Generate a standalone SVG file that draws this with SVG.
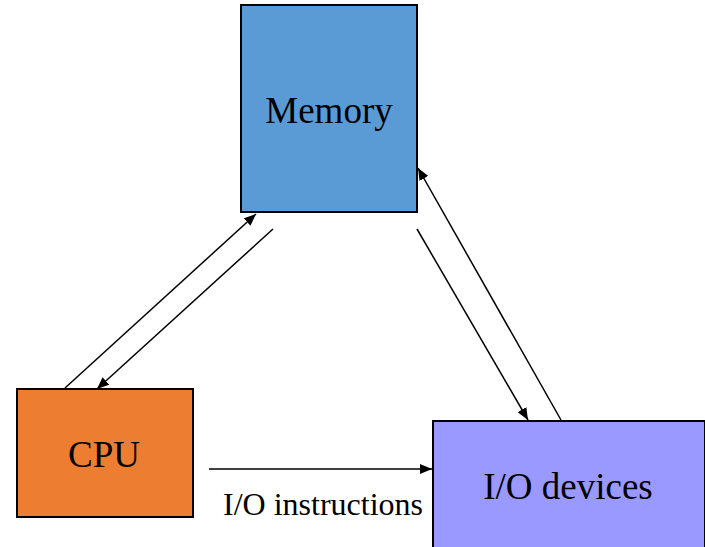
<svg xmlns="http://www.w3.org/2000/svg" width="705" height="547" viewBox="0 0 705 547">
  <style>
    .box { stroke: #000; stroke-width: 2; }
    .label { font-family: "Liberation Serif", "Times New Roman", serif; fill: #000; text-anchor: middle; }
    .big { font-size: 37px; }
    .small { font-size: 32px; }
    .edge { stroke: #000; stroke-width: 1.5; fill: none; marker-end: url(#arrow); }
  </style>
  <defs>
    <marker id="arrow" markerUnits="userSpaceOnUse" markerWidth="13" markerHeight="10" refX="12" refY="5" orient="auto">
      <path d="M0,0 L12,5 L0,10 Z" fill="#000"/>
    </marker>
  </defs>
  <rect width="705" height="547" fill="#fff"/>

  <g id="memory">
    <rect class="box" x="241" y="5" width="176" height="207" fill="#5B9BD5"/>
    <text class="label big" x="329" y="123">Memory</text>
  </g>

  <g id="cpu">
    <rect class="box" x="17" y="389" width="176" height="128" fill="#ED7D31"/>
    <text class="label big" x="104" y="467">CPU</text>
  </g>

  <g id="io-devices">
    <rect class="box" x="433" y="421" width="272" height="140" fill="#9999FF"/>
    <text class="label big" x="568" y="499">I/O devices</text>
  </g>

  <g id="connectors">
    <line class="edge" x1="65" y1="388" x2="256" y2="214"/>
    <line class="edge" x1="273" y1="229" x2="97" y2="389"/>
    <line class="edge" x1="561" y1="420" x2="418" y2="168"/>
    <line class="edge" x1="417" y1="229" x2="528" y2="420"/>
    <line class="edge" x1="209" y1="469" x2="432" y2="469"/>
    <text class="label small" x="323" y="515">I/O instructions</text>
  </g>
</svg>
